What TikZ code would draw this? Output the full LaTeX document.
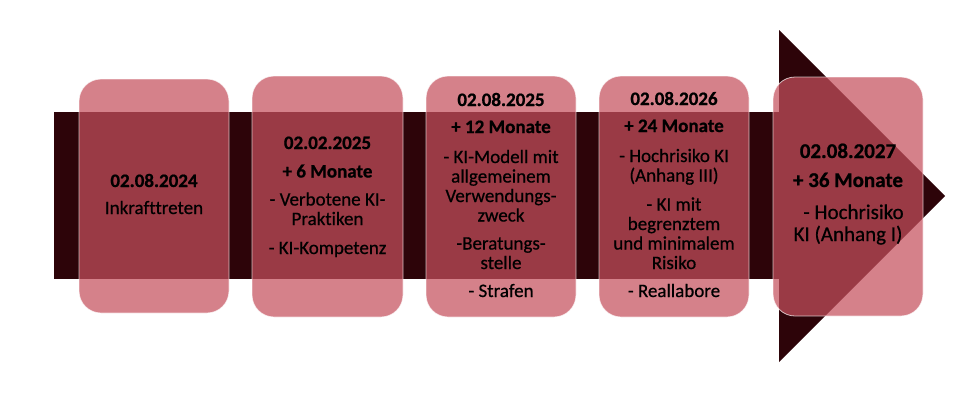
\documentclass[tikz,border=0pt]{standalone}
\usepackage{fontspec}
\setmainfont{Carlito}[Ligatures=NoCommon, UprightFeatures={FakeBold=0.6}, BoldFeatures={FakeBold=0.8}]
\definecolor{barc}{RGB}{45,4,9}
\definecolor{boxc}{RGB}{197,80,93}
\begin{document}
\begin{tikzpicture}[x=1pt,y=-1pt,
  card/.style={fill=boxc, fill opacity=0.72, draw=white, draw opacity=0.7, line width=0.8pt, rounded corners=22pt},
  txt/.style={align=center, anchor=base, text=black, inner sep=0pt, font=\fontsize{19}{19.5}\selectfont},
  bigtxt/.style={txt, font=\fontsize{21}{22}\selectfont}]
\useasboundingbox (0,0) rectangle (966,400);
% timeline bar and arrow head
\fill[barc] (54,112) rectangle (780,279);
\fill[barc] (779,30) -- (945,196) -- (779,362) -- cycle;
% cards
\path[card] (79,79) rectangle (229,313);
\path[card] (252,76) rectangle (403,317);
\path[card] (426,76) rectangle (576,317);
\path[card] (599,76) rectangle (749,317);
\path[card] (773,77) rectangle (923,316);
% texts (anchor = baseline of the last line)
\node[txt] (t1) at (154,214) {\textbf{02.08.2024}\\[7.5pt]Inkrafttreten};
\node[txt] (t2) at (327.5,254) {\textbf{02.02.2025}\\[9pt]\textbf{+ 6 Monate}\\[8.5pt]- Verbotene KI-\\Praktiken\\[9.5pt]- KI-Kompetenz};
\node[txt] (t3) at (501,297) {\textbf{02.08.2025}\\[7.5pt]\textbf{+ 12 Monate}\\[10.5pt]- KI-Modell mit\\allgemeinem\\Verwendungs-\\zweck\\[8.5pt]-Beratungs-\\stelle\\[8.5pt]- Strafen};
\node[txt] (t4) at (674,297) {\textbf{02.08.2026}\\[7.5pt]\textbf{+ 24 Monate}\\[10.5pt]- Hochrisiko KI\\(Anhang III)\\[9.5pt]- KI mit\\begrenztem\\und minimalem\\Risiko\\[8.5pt]- Reallabore};
\node[bigtxt] (t5) at (848,241) {\textbf{02.08.2027}\\[7pt]\textbf{+ 36 Monate}\\[10pt]\hphantom{K}- Hochrisiko\\KI (Anhang I)};
\end{tikzpicture}
\end{document}
